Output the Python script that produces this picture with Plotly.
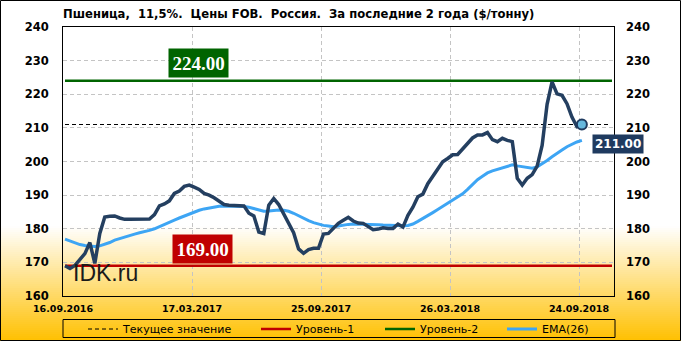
import plotly.graph_objects as go

# ---------------- data ----------------
title_text = "Пшеница,\u00a0 11,5%.\u00a0 Цены FOB.\u00a0 Россия.\u00a0 За последние 2 года ($/тонну)"
x_tick_labels = ["16.09.2016", "17.03.2017", "25.09.2017", "26.03.2018", "24.09.2018"]
y_ticks = [160, 170, 180, 190, 200, 210, 220, 230, 240]

price = [
    169.0, 168.2, 169.1, 170.9, 172.6, 175.9, 169.7, 178.6, 183.5, 183.7,
    183.8, 183.2, 182.8, 182.8, 182.8, 182.8, 182.8, 182.9, 184.2, 186.8,
    187.4, 188.3, 190.5, 191.2, 192.6, 193.0, 192.4, 191.7, 190.5, 190.0,
    189.2, 188.2, 187.2, 187.0, 187.0, 187.0, 186.8, 184.6, 183.8, 179.0,
    178.6, 187.0, 189.0, 187.2, 184.5, 182.0, 178.8, 174.0, 172.7, 173.8,
    174.2, 174.2, 178.4, 178.6, 180.2, 181.6, 182.5, 183.4, 182.3, 181.7,
    181.6, 180.6, 179.7, 179.9, 180.3, 180.1, 180.1, 181.4, 180.5, 184.0,
    186.4, 189.5, 190.3, 193.4, 195.5, 197.8, 199.9, 200.9, 202.0, 202.1,
    203.7, 205.5, 207.0, 207.9, 207.9, 208.6, 206.5, 205.9, 206.9, 206.3,
    205.9, 195.0, 193.0, 195.0, 196.1, 198.6, 204.8, 217.0, 223.7, 220.1,
    219.7, 217.2, 213.2, 210.4, 211.0,
]
ema26 = [
    176.9, 176.3, 175.7, 175.3, 175.0, 174.8, 174.7, 174.9, 175.3, 175.9,
    176.6, 177.1, 177.6, 178.0, 178.4, 178.8, 179.1, 179.5, 180.0, 180.7,
    181.3, 182.0, 182.6, 183.2, 183.8, 184.4, 184.9, 185.5, 185.9, 186.2,
    186.4, 186.7, 186.8, 186.8, 186.8, 186.7, 186.6, 186.4, 186.0, 185.5,
    185.2, 185.3, 185.5, 185.6, 185.5, 185.2, 184.6, 183.8, 183.0, 182.4,
    181.8, 181.3, 181.0, 180.8, 180.6, 180.8, 181.1, 181.3, 181.4, 181.4,
    181.4, 181.4, 181.3, 181.2, 181.1, 181.0, 180.9, 180.8, 180.9, 181.0,
    181.4, 182.2, 183.0, 183.9, 184.8, 185.7, 186.6, 187.6, 188.5, 189.4,
    190.4, 191.7, 193.2, 194.6, 195.6, 196.6, 197.2, 197.7, 198.2, 198.7,
    199.0, 198.7, 198.5, 198.2, 198.0, 198.4, 199.3, 200.3, 201.4, 202.5,
    203.4, 204.4, 205.2, 205.8, 206.3,
]
level1 = 169.0
level2 = 224.0
current_value = 211.0
legend_names = ["Текущее значение", "Уровень-1", "Уровень-2", "EMA(26)"]
watermark = "IDK.ru"

# ---------------- geometry helpers ----------------
W, H = 681, 341
L, R, T, B = 63, 614, 27, 296          # plot area in px
X0, DX = 65.0, 4.97                     # px of first point, px per point

def idx_of(px):
    return (px - X0) / DX

def pxx(px):
    return (px - L) / (R - L)

def pxy(py):
    return (B - py) / (B - T)

x_idx = list(range(len(price)))
x_range = [idx_of(L), idx_of(R)]
tick_pos = [idx_of(L) + k * 129 / DX for k in range(len(x_tick_labels))]
line_end = idx_of(612)
dash_end = idx_of(608)

NAVY = "#243F60"
EMA_C = "#3DA5F4"
RED = "#C00000"
GREEN = "#006400"

fig = go.Figure()

fig.add_trace(go.Scatter(x=[0, dash_end], y=[current_value] * 2, mode="lines",
                         line=dict(color="black", width=1, dash="4px,3px"),
                         name=legend_names[0], legend="legend", hoverinfo="skip"))
fig.add_trace(go.Scatter(x=[0, line_end], y=[level1] * 2, mode="lines",
                         line=dict(color=RED, width=2.5),
                         name=legend_names[1], legend="legend2", hoverinfo="skip"))
fig.add_trace(go.Scatter(x=[0, line_end], y=[level2] * 2, mode="lines",
                         line=dict(color=GREEN, width=2.5),
                         name=legend_names[2], legend="legend3", hoverinfo="skip"))
fig.add_trace(go.Scatter(x=x_idx, y=ema26, mode="lines",
                         line=dict(color=EMA_C, width=3),
                         name=legend_names[3], legend="legend4"))
fig.add_trace(go.Scatter(x=x_idx, y=price, mode="lines",
                         line=dict(color=NAVY, width=3.5),
                         name="Цена", showlegend=False))
fig.add_trace(go.Scatter(x=[x_idx[-1]], y=[price[-1]], mode="markers", yaxis="y2",
                         marker=dict(size=10, color="#66B8DE",
                                     line=dict(color="#1F3A5F", width=2)),
                         showlegend=False, hoverinfo="skip"))

# ---------------- background gradient ----------------
shapes = []
g_top, g_bot = 226, H
step = 2
for yy in range(g_top, g_bot, step):
    t = (yy + step / 2 - g_top) / (g_bot - g_top)
    r = 255
    g = round(255 - (255 - 192) * t)
    b = round(255 - 255 * t)
    shapes.append(dict(type="rect", xref="paper", yref="paper", layer="below",
                       x0=pxx(0), x1=pxx(W), y0=pxy(yy + step), y1=pxy(yy),
                       fillcolor=f"rgb({r},{g},{b})", line=dict(width=0)))
# outer frame
shapes.append(dict(type="rect", xref="paper", yref="paper", layer="above",
                   x0=pxx(0.5), x1=pxx(W - 0.5), y0=pxy(H - 0.5), y1=pxy(0.5),
                   line=dict(color="black", width=1)))
# legend frame
shapes.append(dict(type="rect", xref="paper", yref="paper", layer="above",
                   x0=pxx(63), x1=pxx(615), y0=pxy(337.5), y1=pxy(319.5),
                   line=dict(color="black", width=1)))

# ---------------- annotations ----------------
annotations = [
    dict(text=f"{level2:.2f}", xref="paper", yref="paper", x=pxx(198), y=pxy(62.5),
         xanchor="center", yanchor="middle",
         showarrow=False, bgcolor=GREEN, borderpad=3.5,
         font=dict(family="Liberation Serif", size=19, color="white", weight="bold")),
    dict(text=f"{level1:.2f}", xref="paper", yref="paper", x=pxx(202), y=pxy(249.5),
         xanchor="center", yanchor="middle",
         showarrow=False, bgcolor=RED, borderpad=3.5,
         font=dict(family="Liberation Serif", size=19, color="white", weight="bold")),
    dict(text=f"{current_value:.2f}", xref="paper", yref="paper", x=pxx(618), y=pxy(143.5),
         xanchor="center", yanchor="middle",
         showarrow=False, bgcolor="#1F3A5F", borderpad=2,
         font=dict(family="DejaVu Sans", size=12, color="white", weight="bold")),
    dict(text=watermark, xref="paper", yref="paper", x=pxx(71), y=pxy(273),
         xanchor="left", yanchor="middle", showarrow=False,
         font=dict(family="Liberation Sans", size=23, color="#1a1a1a")),
]

legend_font = dict(family="DejaVu Sans", size=11, color="black")
def leg(px):
    return dict(orientation="h", x=pxx(px), xanchor="left", y=pxy(329), yanchor="middle",
                bgcolor="rgba(0,0,0,0)", borderwidth=0, font=legend_font,
                itemwidth=30, tracegroupgap=0)

axis_font = dict(family="DejaVu Sans", size=11.5, color="black", weight="bold")

fig.update_layout(
    width=W, height=H,
    margin=dict(l=L, r=W - R, t=T, b=H - B, pad=0, autoexpand=False),
    paper_bgcolor="white",
    plot_bgcolor="rgba(0,0,0,0)",
    title=dict(text=title_text, xref="paper", x=0, xanchor="left",
               yref="container", y=1 - 14 / H, yanchor="middle",
               font=dict(family="DejaVu Sans", size=11.6, color="black", weight="bold")),
    xaxis=dict(range=x_range, tickvals=tick_pos, ticktext=x_tick_labels,
               showgrid=True, gridcolor="#C4C4C4", griddash="4px,3px", gridwidth=1,
               zeroline=False, showline=True, linecolor="black", linewidth=1, mirror=True,
               ticks="", ticklabelstandoff=4, automargin=False,
               tickfont=dict(family="DejaVu Sans", size=9.5, color="black", weight="bold")),
    yaxis=dict(range=[y_ticks[0], y_ticks[-1]], tickvals=y_ticks,
               showgrid=True, gridcolor="#C4C4C4", griddash="4px,3px", gridwidth=1,
               zeroline=False, showline=True, linecolor="black", linewidth=1, mirror=True,
               ticks="", ticklabelstandoff=11, tickfont=axis_font, automargin=False),
    yaxis2=dict(range=[y_ticks[0], y_ticks[-1]], tickvals=y_ticks, overlaying="y", side="right",
                showgrid=False, zeroline=False, showline=False, ticks="",
                ticklabelstandoff=11, tickfont=axis_font, automargin=False),
    shapes=shapes,
    annotations=annotations,
    legend=leg(83), legend2=leg(256), legend3=leg(380), legend4=leg(502),
    showlegend=True,
)

fig.write_html("out.html")
